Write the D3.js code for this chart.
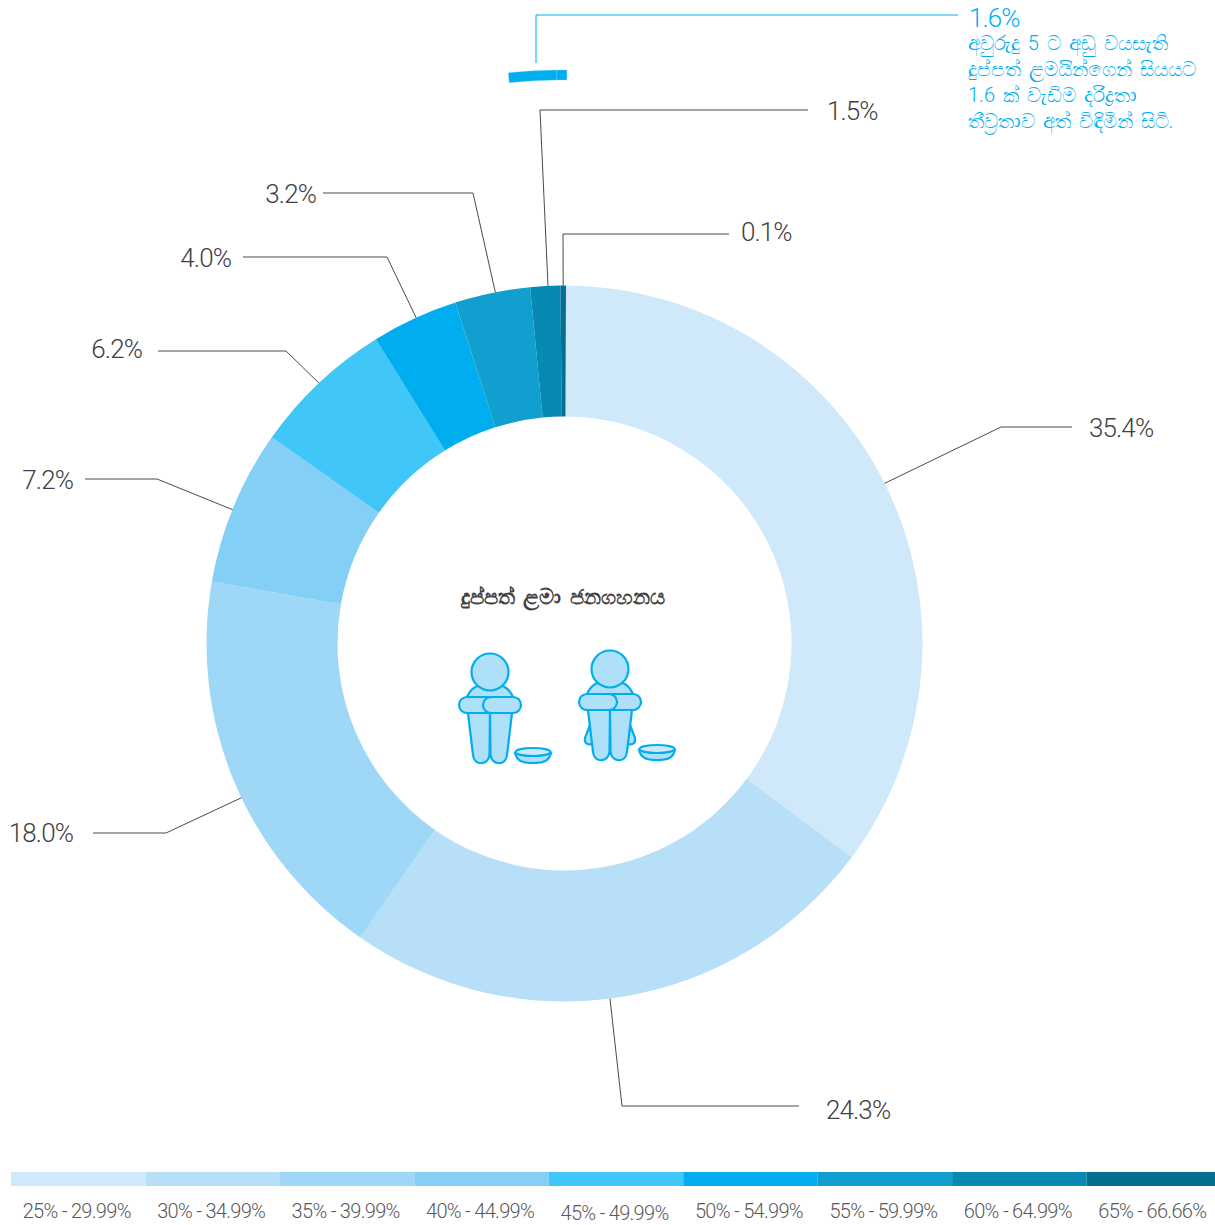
<!DOCTYPE html>
<html>
<head>
<meta charset="utf-8">
<script src="https://cdn.jsdelivr.net/npm/d3@7"></script>
<style>
    body { margin: 0; background: #fff; }
    text { font-family: Roboto, "Noto Sans", sans-serif; }
</style>
</head>
<body>
<div id="chart"></div>
<script>
const sliceLabels = ["35.4%", "24.3%", "18.0%", "7.2%", "6.2%", "4.0%", "3.2%", "1.5%", "0.1%"];
//Arc sizes as measured off the ring, they sit a touch off the printed labels
const sliceValues = [35.1, 24.5, 18.1, 7.0, 6.4, 3.9, 3.4, 1.35, 0.25];
const sliceColors = ["#cfe9fb", "#b7dff8", "#9fd7f7", "#83cff5", "#40c7f7", "#00aeef", "#109fcf", "#0689b3", "#046f91"];
const legendLabels = ["25% - 29.99%", "30% - 34.99%", "35% - 39.99%", "40% - 44.99%", "45% - 49.99%", "50% - 54.99%", "55% - 59.99%", "60% - 64.99%", "65% - 66.66%"];
const extraValues = [1.35, 0.28];
const extraLabel = "1.6%";
const extraNote = ["අවුරුදු 5 ට අඩු වයසැති", "දුප්පත් ළමයින්ගෙන් සියයට", "1.6 ක් වැඩිම දරිද්‍රතා", "තීව්‍රතාව අත් විඳිමින් සිටී."];
const centerTitle = "දුප්පත් ළමා ජනගහනය";

let width = 1215, height = 1225;
let cx = 564.5, cy = 643.5;
let outerR = 358, innerR = 227;
let startOffset = 0.24 * Math.PI / 180;

let svg = d3.select("#chart").append("svg")
    .attr("width", width)
    .attr("height", height)
    .style("display", "block");

let donut = svg.append("g").attr("transform", "translate(" + cx + "," + cy + ")");

//Main ring
let pie = d3.pie().sort(null).value(d => d)
    .startAngle(startOffset)
    .endAngle(2 * Math.PI + startOffset);
let arc = d3.arc().innerRadius(innerR).outerRadius(outerR);
let arcs = pie(sliceValues);

donut.selectAll(".slice")
    .data(arcs)
    .enter().append("path")
    .attr("class", "slice")
    .attr("d", arc)
    .attr("fill", (d, i) => sliceColors[i]);

//Detached 1.6% piece above the ring, same percent scale
let extraSweep = d3.sum(extraValues) / 100 * 2 * Math.PI;
let extraPie = d3.pie().sort(null).value(d => d)
    .startAngle(startOffset - extraSweep)
    .endAngle(startOffset);
let extraArc = d3.arc().innerRadius(563.5).outerRadius(573.5);

donut.selectAll(".extra")
    .data(extraPie(extraValues))
    .enter().append("path")
    .attr("class", "extra")
    .attr("d", extraArc)
    .attr("fill", "#00aeef")
    .attr("stroke", "#7fd6f7")
    .attr("stroke-width", 0.3);

//Leader lines, start on the slice edge then elbow over to the label
let leaders = [
    {shift: 0, elbow: [1001, 427], end: [1072, 427], tx: 1089, ty: 437, anchor: "start"},
    {shift: 2, elbow: [622, 1106], end: [799, 1106], tx: 826, ty: 1119, anchor: "start"},
    {shift: -2.9, elbow: [166, 833], end: [93, 833], tx: 73, ty: 842, anchor: "end"},
    {shift: -0.6, elbow: [157, 479], end: [85, 479], tx: 73, ty: 489, anchor: "end"},
    {shift: 0, elbow: [286, 351], end: [158, 351], tx: 142, ty: 358, anchor: "end"},
    {shift: 0.3, elbow: [387, 257], end: [243, 257], tx: 231, ty: 267, anchor: "end"},
    {shift: 0.5, elbow: [473, 193], end: [323, 193], tx: 316, ty: 203, anchor: "end"},
    {shift: 0.45, elbow: [540, 110], end: [808, 110], tx: 827, ty: 120, anchor: "start"},
    {shift: 0, elbow: [563, 234], end: [729, 234], tx: 741, ty: 241, anchor: "start"}
];

let edgePoint = (a, r) => [cx + r * Math.sin(a), cy - r * Math.cos(a)];

svg.selectAll(".leader")
    .data(leaders)
    .enter().append("path")
    .attr("class", "leader")
    .attr("fill", "none")
    .attr("stroke", "#4a4a4c")
    .attr("stroke-width", 1)
    .attr("d", (d, i) => {
        let mid = (arcs[i].startAngle + arcs[i].endAngle) / 2 + d.shift * Math.PI / 180;
        return d3.line()([edgePoint(mid, outerR), d.elbow, d.end]);
    });

svg.selectAll(".sliceLabel")
    .data(leaders)
    .enter().append("text")
    .attr("class", "sliceLabel")
    .attr("x", d => d.tx)
    .attr("y", d => d.ty)
    .attr("text-anchor", d => d.anchor)
    .attr("fill", "#414042")
    .style("font-size", "26px")
    .style("font-weight", 300)
    .style("letter-spacing", "-0.9px")
    .text((d, i) => sliceLabels[i]);

//Detached piece callout
svg.append("path")
    .attr("fill", "none")
    .attr("stroke", "#00aeef")
    .attr("stroke-width", 1)
    .attr("d", d3.line()([[536, 63], [536, 15], [958, 15]]));

svg.append("text")
    .attr("x", 969)
    .attr("y", 27)
    .attr("fill", "#00aeef")
    .style("font-size", "26px")
    .style("font-weight", 300)
    .style("letter-spacing", "-0.9px")
    .text(extraLabel);

svg.selectAll(".note")
    .data(extraNote)
    .enter().append("text")
    .attr("class", "note")
    .attr("x", 968)
    .attr("y", (d, i) => 50 + i * 26)
    .attr("fill", "#00aeef")
    .style("font-size", "20px")
    .style("font-weight", 300)
    .style("word-spacing", "3px")
    .text(d => d);

//Centre title
svg.append("text")
    .attr("x", 563)
    .attr("y", 604)
    .attr("text-anchor", "middle")
    .attr("fill", "#414042")
    .style("font-size", "20.5px")
    .style("font-weight", 700)
    .style("word-spacing", "3px")
    .text(centerTitle);

//Seated child icon, mirror flips which arm is on top
function drawChild(g, mirror, bowlX) {
    let fill = "#aee0f9", line = "#00aeef";
    let c = g.append("g")
        .attr("fill", fill)
        .attr("stroke", line)
        .attr("stroke-width", 2.2)
        .attr("stroke-linejoin", "round");
    if (mirror) {
        c.append("path").attr("d", "M-20,56 L-25,69 C-26,75 -22,76 -17,75 Z");
        c.append("path").attr("d", "M20,56 L25,69 C26,75 22,76 17,75 Z");
    }
    c.append("path").attr("d", "M-24,28 C-20,14 -10,12 0,12 C10,12 20,14 24,28 Z");
    c.append("path").attr("d", "M-22,41 L-17,83 C-16,94 -2,94 -0.5,83 L0,41 Z");
    c.append("path").attr("d", "M22,41 L17,83 C16,94 2,94 0.5,83 L0,41 Z");
    c.append("circle").attr("cx", 0).attr("cy", 0).attr("r", 18.5);
    let s = mirror ? -1 : 1;
    c.append("rect").attr("x", s > 0 ? -31 : -7).attr("y", 25).attr("width", 38).attr("height", 16).attr("rx", 8);
    c.append("rect").attr("x", s > 0 ? -7 : -31).attr("y", 25).attr("width", 38).attr("height", 16).attr("rx", 8);
    // begging bowl
    let b = g.append("g").attr("stroke", line).attr("stroke-width", 2.2)
        .attr("transform", "translate(" + bowlX + ",0)");
    b.append("path").attr("fill", fill).attr("d", "M-18,81 C-16,89 -11,91 0,91 C11,91 16,89 18,81 Z");
    b.append("ellipse").attr("cx", 0).attr("cy", 80).attr("rx", 17.5).attr("ry", 4).attr("fill", "#cfe9fb");
}

drawChild(svg.append("g").attr("transform", "translate(490,672)"), false, 43);
drawChild(svg.append("g").attr("transform", "translate(610,669)"), true, 47);

//Legend strip as a band scale with a bottom axis, last band runs off the page
let legendX = d3.scaleBand().domain(legendLabels).range([11, 1221]);
svg.selectAll(".swatch")
    .data(legendLabels)
    .enter().append("rect")
    .attr("class", "swatch")
    .attr("x", d => legendX(d))
    .attr("y", 1172)
    .attr("width", legendX.bandwidth())
    .attr("height", 14)
    .attr("fill", (d, i) => sliceColors[i]);

let legendAxis = svg.append("g")
    .attr("transform", "translate(-1.5,1186)")
    .call(d3.axisBottom(legendX).tickSize(0).tickPadding(17));
legendAxis.select(".domain").remove();
legendAxis.selectAll("text")
    .attr("fill", "#58595b")
    .attr("dy", (d, i) => i === 4 ? "0.87em" : "0.77em")
    .style("font-family", "Roboto, sans-serif")
    .style("font-size", "20px")
    .style("font-weight", 300)
    .style("letter-spacing", "-0.7px");
</script>
</body>
</html>
